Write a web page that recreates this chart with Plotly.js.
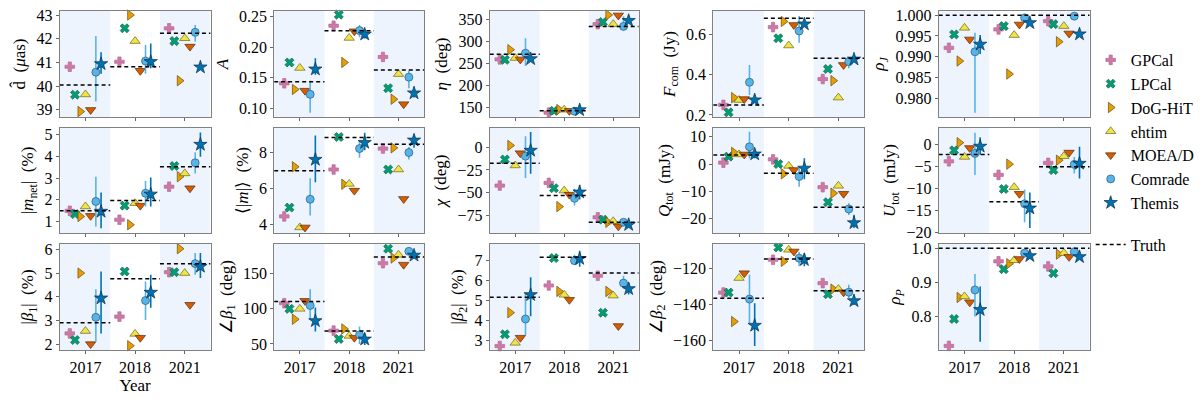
<!DOCTYPE html>
<html>
<head>
<meta charset="utf-8">
<script src="https://cdn.plot.ly/plotly-3.0.1.min.js"></script>
<style>
  html, body { margin: 0; padding: 0; background: #fff; }
  #chart { width: 1200px; height: 399px; }
</style>
</head>
<body>
<div id="chart"></div>
<script>
// categories
const years = ['2017', '2018', '2021'];
const methods = ['GPCal', 'LPCal', 'DoG-HiT', 'ehtim', 'MOEA/D', 'Comrade', 'Themis'];

// values: one row per method, one column per year
// *_lo / *_hi: error bar ends for Comrade (row 0) and Themis (row 1)
const d_hat = [
  [40.82, 41.03, 42.44], [39.64, 42.44, 41.90], [38.93, 43.00, 40.23], [39.65, 41.90, 42.02],
  [39.00, 40.65, 41.67], [40.59, 41.06, 42.27], [40.94, 41.03, 40.80]];
const d_hat_truth = [40.05, 40.82, 42.23];
const d_hat_lo = [[39.35, 40.52, 41.88], [40.52, 40.76, 40.78]];
const d_hat_hi = [[42.12, 41.74, 42.58], [41.43, 41.80, 40.82]];

const amp_A = [
  [0.141, 0.235, 0.184], [0.175, 0.253, 0.133], [0.131, 0.175, 0.115], [0.166, 0.215, 0.156],
  [0.129, 0.226, 0.107], [0.123, 0.227, 0.151], [0.164, 0.221, 0.125]];
const amp_A_truth = [0.1436, 0.2266, 0.1628];
const amp_A_lo = [[0.093, 0.216, 0.133], [0.155, 0.214, 0.118]];
const amp_A_hi = [[0.145, 0.236, 0.162], [0.182, 0.228, 0.131]];

const eta = [
  [260, 139, 340], [259, 143, 345], [282, 146, 361], [263, 145.5, 340],
  [260, 143, 360], [274, 142, 335], [261, 145, 348]];
const eta_truth = [271.8, 143, 334.7];
const eta_lo = [[245, 139, 327], [256, 142, 343]];
const eta_hi = [[308, 146, 358], [266, 148, 353]];

const f_com = [
  [0.250, 0.635, 0.378], [0.213, 0.580, 0.428], [0.286, 0.663, 0.370], [0.274, 0.544, 0.286],
  [0.279, 0.646, 0.448], [0.362, 0.616, 0.464], [0.274, 0.650, 0.476]];
const f_com_truth = [0.2495, 0.679, 0.481];
const f_com_lo = [[0.299, 0.558, 0.431], [0.265, 0.640, 0.465]];
const f_com_hi = [[0.448, 0.690, 0.485], [0.283, 0.660, 0.487]];

const rho_j = [
  [0.99215, 0.99657, 0.99856], [0.99537, 0.99736, 0.99784], [0.98896, 0.98584, 0.99360], [0.99695, 0.99520, 0.99736],
  [0.99417, 0.99777, 0.99561], [0.99119, 0.99935, 0.99976], [0.99297, 0.99815, 0.99544]];
const rho_j_truth = [1, 1, 1];
const rho_j_lo = [[0.97655, 0.9991, 0.9996], [0.99064, 0.9978, 0.9952]];
const rho_j_hi = [[0.99575, 0.9996, 0.9999], [0.99520, 0.9985, 0.9957]];

const m_net = [
  [1.49, 1.08, 2.60], [1.34, 1.73, 3.55], [1.23, 0.85, 3.06], [1.69, 1.84, 3.21],
  [1.26, 1.73, 2.53], [1.92, 2.30, 3.70], [1.46, 2.25, 4.54]];
const m_net_truth = [1.49, 1.96, 3.52];
const m_net_lo = [[0.77, 1.69, 3.21], [0.69, 1.69, 3.98]];
const m_net_hi = [[3.06, 2.86, 4.18], [2.33, 3.02, 5.09]];

const m_avg = [
  [4.46, 7.06, 8.22], [4.95, 8.86, 7.06], [7.21, 6.24, 8.26], [3.85, 6.26, 7.06],
  [3.85, 5.89, 5.43], [5.41, 8.22, 8.00], [7.61, 8.55, 8.68]];
const m_avg_truth = [6.99, 8.83, 8.46];
const m_avg_lo = [[4.51, 7.71, 7.61], [6.35, 8.13, 8.26]];
const m_avg_hi = [[6.57, 8.68, 8.31], [8.95, 9.10, 8.95]];

const chi = [
  [-42.1, -39.2, -76.8], [-13.5, -45.0, -79.4], [1.8, -65.1, -82.3], [-20.1, -47.6, -81.2],
  [-6.6, -52.0, -86.7], [-9.9, -56.0, -82.3], [-3.7, -49.4, -84.9]];
const chi_truth = [-17.6, -53.0, -82.3];
const chi_lo = [[-33.7, -64.0, -85.0], [-29.3, -57.4, -88.0]];
const chi_hi = [[12.0, -45.7, -79.5], [16.5, -41.3, -82.0]];

const q_tot = [
  [0.5, 1.7, -8.5], [2.7, 0.0, -14.0], [4.25, -3.6, -10.7], [3.5, -0.7, -8.0],
  [3.5, -2.2, -10.9], [6.3, -4.6, -16.5], [3.6, -1.6, -21.6]];
const q_tot_truth = [3.3, -3.4, -15.9];
const q_tot_lo = [[2.1, -8.3, -18.7], [2.1, -5.6, -23.5]];
const q_tot_hi = [[11.8, -1.2, -14.4], [5.5, 2.1, -18.6]];

const u_tot = [
  [-3.8, -6.9, -4.15], [-1.3, -10.1, -5.8], [0.45, -4.45, -3.55], [-2.8, -9.7, -2.65],
  [-0.75, -11.2, -1.8], [-2.0, -13.5, -4.5], [-0.4, -14.5, -4.3]];
const u_tot_truth = [-2.26, -13.0, -5.05];
const u_tot_lo = [[-6.9, -17.7, -6.6], [-2.3, -19.0, -7.7]];
const u_tot_hi = [[2.7, -10.2, -2.8], [1.7, -10.9, -0.5]];

const beta1_amp = [
  [2.45, 3.16, 5.04], [2.17, 5.07, 5.04], [5.00, 1.93, 6.03], [2.55, 2.43, 5.00],
  [2.00, 2.27, 3.66], [3.13, 3.84, 5.40], [3.94, 4.18, 5.28]];
const beta1_amp_truth = [2.90, 4.76, 5.40];
const beta1_amp_lo = [[2.10, 3.02, 4.93], [2.45, 3.54, 4.79]];
const beta1_amp_hi = [[4.32, 4.65, 5.85], [5.07, 4.93, 5.85]];

const beta1_arg = [
  [108, 69, 165], [100, 57.1, 185.7], [85.2, 71.4, 172.4], [100, 61.4, 177],
  [111.4, 59, 163], [104.8, 62.9, 181.9], [82.9, 56.7, 176.2]];
const beta1_arg_truth = [110.5, 68.6, 173.8];
const beta1_arg_lo = [[84.3, 50, 178], [67.6, 48.6, 172]];
const beta1_arg_hi = [[128, 74.8, 185], [101.9, 65.2, 181]];

const beta2_amp = [
  [2.70, 5.75, 6.24], [3.29, 7.13, 4.38], [4.38, 5.45, 5.45], [2.86, 5.28, 5.24],
  [3.12, 5.03, 3.71], [4.06, 7.00, 5.87], [5.28, 7.10, 5.58]];
const beta2_amp_truth = [5.16, 7.17, 6.38];
const beta2_amp_lo = [[3.25, 6.80, 5.58], [4.20, 6.70, 5.30]];
const beta2_amp_hi = [[5.36, 7.30, 6.24], [6.17, 7.50, 5.87]];

const beta2_arg = [
  [-133.5, -115.4, -128.3], [-133.5, -108.6, -134.4], [-149.5, -116.3, -131.6], [-125.5, -109.9, -131.6],
  [-122.8, -110.8, -133.3], [-137.1, -114.5, -133.3], [-151.7, -115.4, -138.1]];
const beta2_arg_truth = [-136.6, -115.0, -132.5];
const beta2_arg_lo = [[-150.4, -119, -136.6], [-163, -119, -140.4]];
const beta2_arg_hi = [[-123.7, -111, -129.2], [-139.4, -112, -135.1]];

const rho_p = [
  [0.714, 0.962, 0.947], [0.793, 0.939, 0.927], [0.856, 0.955, 0.983], [0.859, 0.965, 0.986],
  [0.842, 0.969, 0.975], [0.878, 0.986, 0.990], [0.820, 0.978, 0.975]];
const rho_p_truth = [1, 1, 1];
const rho_p_lo = [[0.800, 0.975, 0.985], [0.726, 0.970, 0.968]];
const rho_p_hi = [[0.925, 0.995, 0.995], [0.888, 0.985, 0.982]];

// styles
const colors = ['#cc79a7', '#009e73', '#e69f00', '#f0e442', '#d55e00', '#56b4e9', '#0072b2'];
const symbols = ['cross', 'x', 'triangle-right', 'triangle-up', 'triangle-down', 'circle', 'star'];
const edges = ['#b86a95', '#1f5e4a', '#6b4a10', '#6b6420', '#5a2a08', '#2c5a78', '#0b2e4a'];
const sizes = [8, 8, 9, 9, 9, 8, 10];
const FONT = 'Liberation Serif, Times New Roman, serif';

const panels = [
  { v: d_hat, t: d_hat_truth, lo: d_hat_lo, hi: d_hat_hi, title: 'd̂  (<i>μ</i>as)', range: [38.7, 43.17], dtick: 1 },
  { v: amp_A, t: amp_A_truth, lo: amp_A_lo, hi: amp_A_hi, title: '<i>A</i>', range: [0.086, 0.259], dtick: 0.05, fmt: '.2f' },
  { v: eta, t: eta_truth, lo: eta_lo, hi: eta_hi, title: '<i>η</i>  (deg)', range: [129, 370], dtick: 50 },
  { v: f_com, t: f_com_truth, lo: f_com_lo, hi: f_com_hi, title: '<i>F</i><sub>com</sub>  (Jy)', range: [0.19, 0.715], dtick: 0.2, fmt: '.1f' },
  { v: rho_j, t: rho_j_truth, lo: rho_j_lo, hi: rho_j_hi, title: '<i>ρ</i><sub><i>J</i></sub>', range: [0.9755, 1.001], dtick: 0.005, fmt: '.3f' },
  { v: m_net, t: m_net_truth, lo: m_net_lo, hi: m_net_hi, title: '|<i>m</i><sub>net</sub>|  (%)', range: [0.47, 5.3], dtick: 1 },
  { v: m_avg, t: m_avg_truth, lo: m_avg_lo, hi: m_avg_hi, title: '⟨|<i>m</i>|⟩  (%)', range: [3.54, 9.36], dtick: 2 },
  { v: chi, t: chi_truth, lo: chi_lo, hi: chi_hi, title: '<i>χ</i>  (deg)', range: [-94, 20.9], dtick: 25 },
  { v: q_tot, t: q_tot_truth, lo: q_tot_lo, hi: q_tot_hi, title: '<i>Q</i><sub>tot</sub>  (mJy)', range: [-25.3, 13.2], dtick: 10 },
  { v: u_tot, t: u_tot_truth, lo: u_tot_lo, hi: u_tot_hi, title: '<i>U</i><sub>tot</sub>  (mJy)', range: [-20.15, 3.8], dtick: 5 },
  { v: beta1_amp, t: beta1_amp_truth, lo: beta1_amp_lo, hi: beta1_amp_hi, title: '|<i>β</i><sub>1</sub>|  (%)', range: [1.75, 6.23], dtick: 1 },
  { v: beta1_arg, t: beta1_arg_truth, lo: beta1_arg_lo, hi: beta1_arg_hi, title: '∠<i>β</i><sub>1</sub>  (deg)', range: [41.4, 192.4], dtick: 50 },
  { v: beta2_amp, t: beta2_amp_truth, lo: beta2_amp_lo, hi: beta2_amp_hi, title: '|<i>β</i><sub>2</sub>|  (%)', range: [2.5, 7.84], dtick: 1 },
  { v: beta2_arg, t: beta2_arg_truth, lo: beta2_arg_lo, hi: beta2_arg_hi, title: '∠<i>β</i><sub>2</sub>  (deg)', range: [-165.2, -106.7], dtick: 20 },
  { v: rho_p, t: rho_p_truth, lo: rho_p_lo, hi: rho_p_hi, title: '<i>ρ</i><sub><i>P</i></sub>', range: [0.702, 1.0127], dtick: 0.1, fmt: '.1f' }
];

// panel frames in pixels
const colPx = [[60, 212], [276, 427], [493, 643], [718, 870], [945, 1097]];
const rowPx = [[11, 117], [128, 233], [244, 350]];
const W = 1200, H = 399;
const XR = [-0.52, 2.52];
const yearIdx = years.map((_, j) => j);

const traces = [];
const layout = {
  width: W, height: H,
  margin: { l: 0, r: 0, t: 0, b: 0 },
  paper_bgcolor: '#fff', plot_bgcolor: '#fff',
  font: { family: FONT, size: 16, color: '#000' },
  showlegend: true,
  legend: {
    x: 1098 / W, y: 1 - 43 / H, xanchor: 'left', yanchor: 'top',
    font: { family: FONT, size: 16 }, traceorder: 'grouped', tracegroupgap: 18,
    bgcolor: 'rgba(0,0,0,0)', itemwidth: 30
  },
  shapes: []
};

panels.forEach((p, k) => {
  const n = k === 0 ? '' : String(k + 1);
  const row = Math.floor(k / 5), col = k % 5;
  const xa = 'x' + n, ya = 'y' + n;

  layout['xaxis' + n] = {
    domain: [colPx[col][0] / W, colPx[col][1] / W], anchor: ya, range: XR,
    tickvals: yearIdx, ticktext: years, showticklabels: row === 2,
    ticks: 'outside', ticklen: 3, tickcolor: '#666',
    showline: true, mirror: true, linecolor: '#808080', linewidth: 1,
    showgrid: false, zeroline: false, tickfont: { size: 16 },
    title: k === 10 ? { text: 'Year', font: { size: 17 }, standoff: 2 } : undefined
  };
  layout['yaxis' + n] = {
    domain: [1 - rowPx[row][1] / H, 1 - rowPx[row][0] / H], anchor: xa, range: p.range,
    dtick: p.dtick, tickformat: p.fmt || '', ticks: 'outside', ticklen: 3, tickcolor: '#666',
    showline: true, mirror: true, linecolor: '#808080', linewidth: 1,
    showgrid: false, zeroline: false, tickfont: { size: 16 },
    title: { text: p.title, font: { size: 17 }, standoff: 6 }
  };

  // shaded bands for 2017 and 2021
  [[XR[0], 0.5], [1.5, XR[1]]].forEach(b => layout.shapes.push({
    type: 'rect', xref: xa, yref: ya + ' domain', x0: b[0], x1: b[1], y0: 0, y1: 1,
    fillcolor: '#edf4fd', line: { width: 0 }, layer: 'below'
  }));

  methods.forEach((m, i) => {
    const tr = {
      type: 'scatter', mode: 'markers', name: m, xaxis: xa, yaxis: ya,
      x: yearIdx.map(j => j + (i - 3) * 0.105), y: p.v[i],
      marker: { symbol: symbols[i], color: colors[i], size: sizes[i], line: { color: edges[i], width: 0.7 } },
      legendgroup: 'methods', showlegend: k === 0, cliponaxis: false
    };
    if (i >= 5) {
      const e = i - 5;
      tr.error_y = {
        type: 'data', symmetric: false,
        array: p.hi[e].map((h, j) => h - p.v[i][j]),
        arrayminus: p.lo[e].map((l, j) => p.v[i][j] - l),
        color: colors[i], thickness: 1.6, width: 0
      };
    }
    traces.push(tr);
  });

  // truth levels, one dashed segment per year
  const tx = [], ty = [];
  yearIdx.forEach(j => {
    tx.push(j === 0 ? XR[0] : j - 0.5, j === 2 ? XR[1] : j + 0.5, null);
    ty.push(p.t[j], p.t[j], null);
  });
  traces.push({
    type: 'scatter', mode: 'lines', name: 'Truth', xaxis: xa, yaxis: ya, x: tx, y: ty,
    line: { color: '#000', width: 1.5, dash: '4px,3px' },
    legendgroup: 'truth', showlegend: k === 0
  });
});

Plotly.newPlot('chart', traces, layout, { displayModeBar: false, responsive: false });
</script>
</body>
</html>
